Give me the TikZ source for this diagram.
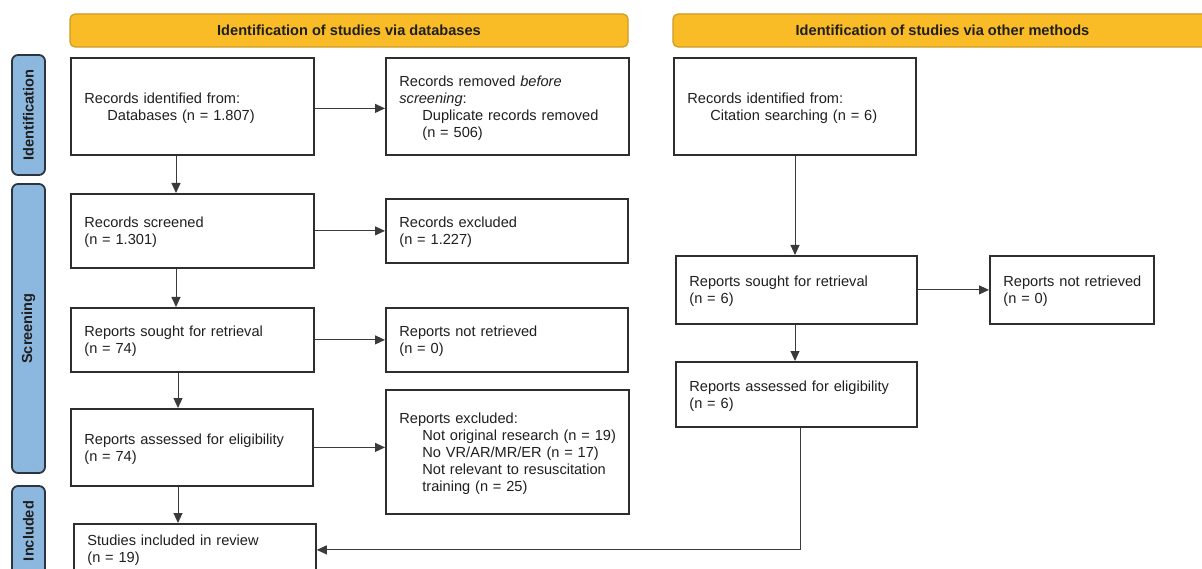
\documentclass[tikz,border=0pt]{standalone}
\usepackage{fontspec}
\setmainfont{Liberation Sans}
\usetikzlibrary{arrows.meta,calc}
\definecolor{hdrfill}{HTML}{F9BC27}
\definecolor{hdrline}{HTML}{CF9B22}
\definecolor{sidefill}{HTML}{8CB8DF}
\definecolor{sideline}{HTML}{2B3440}
\definecolor{boxline}{HTML}{2E2E2E}
\definecolor{arrline}{HTML}{3A3A3A}
\newcommand{\fsz}{\fontsize{14.6}{17}\selectfont}
\newcommand{\ind}{\hspace*{23pt}}
\newcommand{\lines}[1]{\raisebox{-2pt}[\height][\depth]{\begin{tabular}{@{}l@{}}#1\end{tabular}}}
\begin{document}
\begin{tikzpicture}[x=1pt,y=-1pt,
  hdr/.style={draw=hdrline, line width=1.2pt, fill=hdrfill, rounded corners=5pt,
    font=\fsz\bfseries, text=black!88, inner sep=0pt},
  side/.style={draw=sideline, line width=1.8pt, fill=sidefill, rounded corners=6pt,
    font=\fsz\bfseries, text=black!88, inner sep=0pt, rotate=90, minimum height=33pt},
  box/.style={draw=boxline, line width=1.8pt, fill=white, anchor=north west,
    inner xsep=13.5pt, inner ysep=0pt, align=left, font=\fsz, text=black!88},
  arr/.style={draw=arrline, line width=1pt, -{Triangle[length=10pt,width=9pt]}}
]
\useasboundingbox (0,0) rectangle (1202,569);
\clip (0,0) rectangle (1202,569);
\fill[white] (0,0) rectangle (1202,569);

% headers
\node[hdr, minimum width=558pt, minimum height=33pt] (h1) at (349,30.5)
  {Identification of studies via databases};
\node[hdr, minimum width=539pt, minimum height=33pt] (h2) at (942.5,30.5)
  {Identification of studies via other methods};

% side labels
\node[side, minimum width=120pt] (s1) at (28.5,115) {Identification};
\node[side, minimum width=289pt] (s2) at (28.5,328.5) {Screening};
\node[side, minimum width=90pt] (s3) at (28.5,531) {Included};

% left column
\node[box, text width=216pt, minimum height=97pt] (A) at (70,57)
  {\lines{Records identified from:\\\ind Databases (n = 1.807)}};
\node[box, text width=216pt, minimum height=97pt] (B) at (385,57)
  {\lines{Records removed \textit{before}\\\textit{screening}:\\\ind Duplicate records removed\\\ind (n = 506)}};
\node[box, text width=216pt, minimum height=74pt] (C) at (70,193)
  {\lines{Records screened\\(n = 1.301)}};
\node[box, text width=215pt, minimum height=64pt] (D) at (385,198)
  {\lines{Records excluded\\(n = 1.227)}};
\node[box, text width=216pt, minimum height=64pt] (E) at (70,307)
  {\lines{Reports sought for retrieval\\(n = 74)}};
\node[box, text width=215pt, minimum height=64pt] (F) at (385,307)
  {\lines{Reports not retrieved\\(n = 0)}};
\node[box, text width=215pt, minimum height=77pt] (G) at (70,408)
  {\lines{Reports assessed for eligibility\\(n = 74)}};
\node[box, text width=216pt, minimum height=124pt] (H) at (385,389)
  {\lines{Reports excluded:\\\ind Not original research (n = 19)\\\ind No VR/AR/MR/ER (n = 17)\\\ind Not relevant to resuscitation\\\ind training (n = 25)}};
\node[box, text width=215pt, minimum height=49pt] (I) at (73,523)
  {\lines{Studies included in review\\(n = 19)}};

% right column
\node[box, text width=215pt, minimum height=97pt] (J) at (673,57)
  {\lines{Records identified from:\\\ind Citation searching (n = 6)}};
\node[box, text width=214pt, minimum height=68pt] (K) at (675,255)
  {\lines{Reports sought for retrieval\\(n = 6)}};
\node[box, text width=137pt, minimum height=68pt] (L) at (989,255)
  {\lines{Reports not retrieved\\(n = 0)}};
\node[box, text width=214pt, minimum height=65pt] (M) at (675,361)
  {\lines{Reports assessed for eligibility\\(n = 6)}};

% connectors
\draw[arr] ([yshift=-2pt]A.east) -- ([yshift=-2pt]B.west);
\draw[arr] ([xshift=106pt]A.south west) -- ([xshift=106pt]C.north west);
\draw[arr] (C.east) -- (C.east -| D.west);
\draw[arr] ([xshift=106pt]C.south west) -- ([xshift=106pt]E.north west);
\draw[arr] (E.east) -- (F.west);
\draw[arr] ([xshift=108pt]E.south west) -- ([xshift=108pt]G.north west);
\draw[arr] (G.east) -- (G.east -| H.west);
\draw[arr] ([xshift=108pt]G.south west) -- ([xshift=105pt]I.north west);
\draw[arr] ([xshift=122pt]J.south west) -- ([xshift=120pt]K.north west);
\draw[arr] (K.east) -- (K.east -| L.west);
\draw[arr] ([xshift=120pt]K.south west) -- ([xshift=120pt]M.north west);
\draw[arr] ([xshift=125pt]M.south west) |- ([yshift=-1.5pt]I.east);
\end{tikzpicture}
\end{document}
